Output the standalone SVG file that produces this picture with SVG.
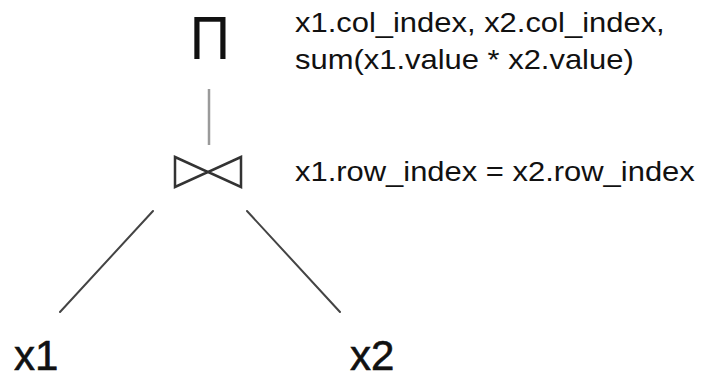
<svg xmlns="http://www.w3.org/2000/svg" width="701" height="379" viewBox="0 0 701 379">
  <style>
    .label { font-family: "Liberation Sans", Arial, Helvetica, sans-serif; fill: #111; }
    .cond { font-size: 28px; }
    .rel { font-size: 42px; stroke: #111; stroke-width: 0.6; }
    .edge { stroke: #444; stroke-width: 2; fill: none; stroke-linecap: round; }
    .stem { stroke: #9a9a9a; stroke-width: 2.5; }
    .bow { fill: none; stroke: #333; stroke-width: 2.5; stroke-linejoin: miter; }
  </style>
  <rect width="701" height="379" fill="#fff"/>

  <!-- tree edges -->
  <g id="connectors">
    <line class="stem" x1="209" y1="89" x2="209" y2="145"/>
    <line class="edge" x1="153" y1="211" x2="60" y2="312"/>
    <line class="edge" x1="247" y1="211" x2="340" y2="312"/>
  </g>

  <!-- projection operator with its attribute list -->
  <g id="projection">
    <text class="label" x="210" y="59" font-size="62" text-anchor="middle" transform="translate(210 0) scale(0.9 1) translate(-210 0)">Π</text>
    <g transform="translate(295 0) scale(1.105 1) translate(-295 0)">
      <text class="label cond" x="295" y="32">x1.col_index, x2.col_index,</text>
      <text class="label cond" x="295" y="69">sum(x1.value * x2.value)</text>
    </g>
  </g>

  <!-- join operator (bowtie) with its condition -->
  <g id="join">
    <polygon class="bow" points="175,157 208,172 175,187"/>
    <polygon class="bow" points="241,157 208,172 241,187"/>
    <g transform="translate(295 0) scale(1.105 1) translate(-295 0)">
      <text class="label cond" x="295" y="181">x1.row_index = x2.row_index</text>
    </g>
  </g>

  <!-- base relations -->
  <g id="x1">
    <text class="label rel" x="14" y="370">x1</text>
  </g>
  <g id="x2">
    <text class="label rel" x="350" y="370">x2</text>
  </g>
</svg>
